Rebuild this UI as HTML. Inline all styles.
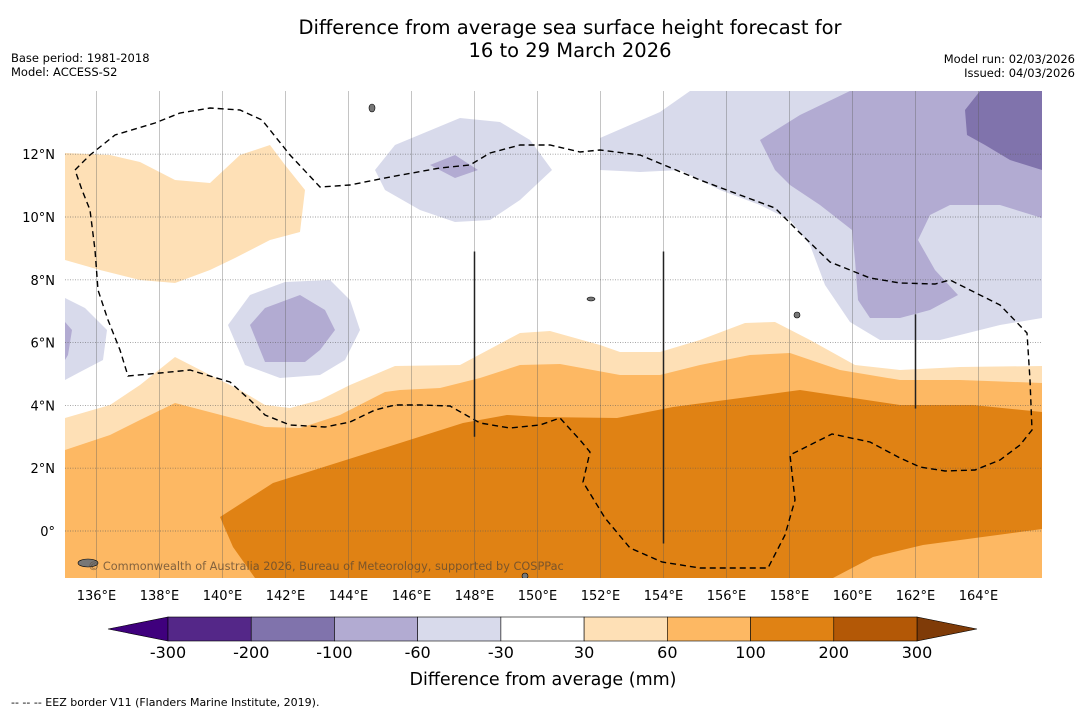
<!DOCTYPE html>
<html><head><meta charset="utf-8"><style>
body{margin:0;background:#fff;font-family:"Liberation Sans","DejaVu Sans",sans-serif;}
svg text{font-family:"DejaVu Sans","Liberation Sans",sans-serif;}
</style></head><body>
<svg id="chart" width="1085" height="713" viewBox="0 0 1085 713" xmlns="http://www.w3.org/2000/svg">
<text x="570" y="34" font-size="19.5" text-anchor="middle">Difference from average sea surface height forecast for</text>
<text x="570" y="57" font-size="19.5" text-anchor="middle">16 to 29 March 2026</text>
<text x="11" y="62" font-size="11.5">Base period: 1981-2018</text>
<text x="11" y="76" font-size="11.5">Model: ACCESS-S2</text>
<text x="1075" y="63" font-size="11.5" text-anchor="end">Model run: 02/03/2026</text>
<text x="1075" y="77" font-size="11.5" text-anchor="end">Issued: 04/03/2026</text>
<clipPath id="mapclip"><rect x="65" y="91" width="977" height="487"/></clipPath>
<g id="map" clip-path="url(#mapclip)"></g>
<g id="axes"></g>
<g id="cbar"></g>
<text x="543" y="685" font-size="17.5" text-anchor="middle">Difference from average (mm)</text>
<text x="11" y="706" font-size="11">--  --  -- EEZ border V11 (Flanders Marine Institute, 2019).</text>
</svg>
<script>
const lonTicks=[136,138,140,142,144,146,148,150,152,154,156,158,160,162,164];
const latTicks=[0,2,4,6,8,10,12];
const cbarLevels=[-300,-200,-100,-60,-30,30,60,100,200,300];
const cbarColors=["#542788","#8073ac","#b2abd2","#d8daeb","#ffffff","#fee0b6","#fdb863","#e08214","#b35806"];
function X(lon){return 65+(lon-135)*31.5;}
function Y(lat){return 531-lat*31.4;}
function pxLon(p){return 135+(p-65)/31.5;}
function pxLat(p){return (531-p)/31.4;}
function conv(a){const r=[];for(let i=0;i<a.length;i+=2)r.push([pxLon(a[i]),pxLat(a[i+1])]);return r;}
const orange30=conv([65,418,110,405,140,385,175,357,210,375,240,390,265,405,290,408,320,400,350,385,395,366,460,365,520,333,550,331,600,345,620,352,660,352,700,340,745,323,775,322,810,340,855,365,900,370,960,367,1042,366,1042,578,65,578]);
const orange30b=conv([65,153,110,155,140,162,175,180,210,183,240,155,270,145,285,165,305,190,300,232,270,240,235,258,210,270,175,283,140,280,100,270,65,260]);
const orange60=conv([65,450,110,435,140,420,175,403,240,420,265,427,300,428,340,415,385,392,400,390,440,388,480,378,520,365,560,364,620,375,660,375,700,365,750,355,790,353,840,370,900,380,960,380,1042,383,1042,578,65,578]);
const orange100=conv([220,517,273,483,400,443,463,423,507,415,540,417,617,418,673,407,800,390,900,405,973,405,1042,412,1042,578,255,578,233,547]);
const orange60br=conv([833,578,873,557,923,545,1042,529,1042,578]);
const purple60a=conv([600,138,660,112,690,91,1042,91,1042,318,1000,325,940,340,880,340,850,322,825,285,810,245,790,220,760,205,720,190,680,170,640,172,600,170]);
const purple100a=conv([760,140,800,115,850,91,1042,91,1042,218,1000,205,950,205,930,215,918,240,935,270,958,295,930,310,900,318,870,318,858,300,855,260,852,230,820,205,790,185,775,170]);
const purple200a=conv([965,110,980,91,1042,91,1042,170,1010,160,985,145,967,135]);
const purple60b=conv([375,170,395,145,460,118,500,122,530,140,552,170,520,200,490,220,455,222,420,210,385,190]);
const purple100b=conv([430,165,455,155,478,170,455,178]);
const purple60c=conv([228,325,250,295,285,282,330,280,350,300,360,330,345,360,320,375,280,378,245,365]);
const purple100c=conv([250,325,265,308,300,295,325,310,335,330,320,350,305,362,265,362]);
const purple60d=conv([65,298,85,308,107,330,103,360,80,372,65,380]);
const purple100d=conv([65,322,72,330,68,355,65,360]);
const eez=conv([75,170,90,155,115,135,155,123,180,113,210,108,240,110,262,120,290,155,320,187,350,185,390,177,440,168,470,165,490,153,520,145,550,145,580,152,600,150,640,155,700,180,740,195,775,208,800,233,830,262,870,278,900,283,935,284,950,280,1000,305,1027,333,1030,380,1032,430,1020,445,1000,460,975,470,945,471,920,467,900,458,870,442,832,434,800,450,790,455,795,500,785,535,768,568,700,568,662,562,630,548,605,518,583,482,590,452,580,440,560,418,540,425,510,428,480,423,450,406,420,405,395,405,375,410,350,422,325,427,290,425,265,415,250,400,230,382,190,370,160,373,128,376,120,350,108,320,98,290,95,250,90,210,82,190,75,170]);
const NS="http://www.w3.org/2000/svg";
const map=document.getElementById('map');
function pts(a){return a.map(p=>X(p[0]).toFixed(1)+","+Y(p[1]).toFixed(1)).join(" ");}
const layers=[[orange30,"#fee0b6","contour-30-60"],[orange30b,"#fee0b6","contour-30-60-north"],[orange60,"#fdb863","contour-60-100"],[orange100,"#e08214","contour-100-200"],[orange60br,"#fdb863","contour-60-100-southeast"],[purple60a,"#d8daeb","contour-neg60-neg30-east"],[purple100a,"#b2abd2","contour-neg100-neg60-east"],[purple200a,"#8073ac","contour-neg200-neg100-east"],[purple60b,"#d8daeb","contour-neg60-neg30-north"],[purple100b,"#b2abd2","contour-neg100-neg60-north"],[purple60c,"#d8daeb","contour-neg60-neg30-central"],[purple100c,"#b2abd2","contour-neg100-neg60-central"],[purple60d,"#d8daeb","contour-neg60-neg30-west"],[purple100d,"#b2abd2","contour-neg100-neg60-west"]];
layers.forEach(l=>{const p=document.createElementNS(NS,'polygon');p.setAttribute('points',pts(l[0]));p.setAttribute('fill',l[1]);


map.appendChild(p);});
lonTicks.forEach(v=>{const l=document.createElementNS(NS,'line');l.setAttribute('x1',X(v));l.setAttribute('x2',X(v));l.setAttribute('y1',91);l.setAttribute('y2',578);l.setAttribute('stroke','rgba(90,90,90,0.45)');l.setAttribute('stroke-width','0.8');


map.appendChild(l);});
latTicks.forEach(v=>{const l=document.createElementNS(NS,'line');l.setAttribute('x1',65);l.setAttribute('x2',1042);l.setAttribute('y1',Y(v));l.setAttribute('y2',Y(v));l.setAttribute('stroke','rgba(90,90,90,0.6)');l.setAttribute('stroke-width','0.9');l.setAttribute('stroke-dasharray','1 1.5');


map.appendChild(l);});
const e=document.createElementNS(NS,'polyline');e.setAttribute('points',pts(eez));e.setAttribute('fill','none');e.setAttribute('stroke','#000');e.setAttribute('stroke-width','1.4');e.setAttribute('stroke-dasharray','6 4');


map.appendChild(e);
const segs=[[148,3.0,8.9],[154,-0.4,8.9],[162,3.9,6.9]];
segs.forEach(s=>{const l=document.createElementNS(NS,'line');l.setAttribute('x1',X(s[0]));l.setAttribute('x2',X(s[0]));l.setAttribute('y1',Y(s[2]));l.setAttribute('y2',Y(s[1]));l.setAttribute('stroke','#222');l.setAttribute('stroke-width','1.5');


map.appendChild(l);});
[[88,563,10,4],[372,108,3,4],[797,315,3,3],[591,299,4,2],[525,576,3,3]].forEach(i=>{const el=document.createElementNS(NS,'ellipse');el.setAttribute('cx',i[0]);el.setAttribute('cy',i[1]);el.setAttribute('rx',i[2]);el.setAttribute('ry',i[3]);el.setAttribute('fill','#777');el.setAttribute('stroke','#000');el.setAttribute('stroke-width','0.6');


map.appendChild(el);});
const cp=document.createElementNS(NS,'text');cp.setAttribute('x',88);cp.setAttribute('y',570);cp.setAttribute('font-size','11.3');cp.setAttribute('fill','rgba(90,70,50,0.75)');cp.textContent='© Commonwealth of Australia 2026, Bureau of Meteorology, supported by COSPPac';


map.appendChild(cp);
const ax=document.getElementById('axes');
lonTicks.forEach(v=>{const t=document.createElementNS(NS,'text');t.setAttribute('x',X(v));t.setAttribute('y',600);t.setAttribute('font-size','13');t.setAttribute('text-anchor','middle');t.textContent=v+'°E';


ax.appendChild(t);});
latTicks.forEach(v=>{const t=document.createElementNS(NS,'text');t.setAttribute('x',55);t.setAttribute('y',Y(v)+5);t.setAttribute('font-size','13');t.setAttribute('text-anchor','end');t.textContent=v+'°'+(v>0?'N':'');


ax.appendChild(t);});
const cb=document.getElementById('cbar');
const cx0=168,cx1=917,cy=617,ch=24,bw=(cx1-cx0)/cbarColors.length;
function add(tag,attrs,name){const el=document.createElementNS(NS,tag);for(const k in attrs)el.setAttribute(k,attrs[k]);


cb.appendChild(el);return el;}
add('polygon',{points:`${cx0},${cy} ${cx0},${cy+ch} 108,${cy+ch/2}`,fill:'#3f007d',stroke:'#000','stroke-width':0.6},'colorbar-arrow-low');
add('polygon',{points:`${cx1},${cy} ${cx1},${cy+ch} 977,${cy+ch/2}`,fill:'#7f3b08',stroke:'#000','stroke-width':0.6},'colorbar-arrow-high');
cbarColors.forEach((c,i)=>{add('rect',{x:cx0+i*bw,y:cy,width:bw,height:ch,fill:c,stroke:'#000','stroke-width':0.6},'colorbar-box');});
cbarLevels.forEach((v,i)=>{const t=add('text',{x:cx0+i*bw,y:658,'font-size':16,'text-anchor':'middle'},'colorbar-tick-label');t.textContent=v;});
</script>
</body></html>
